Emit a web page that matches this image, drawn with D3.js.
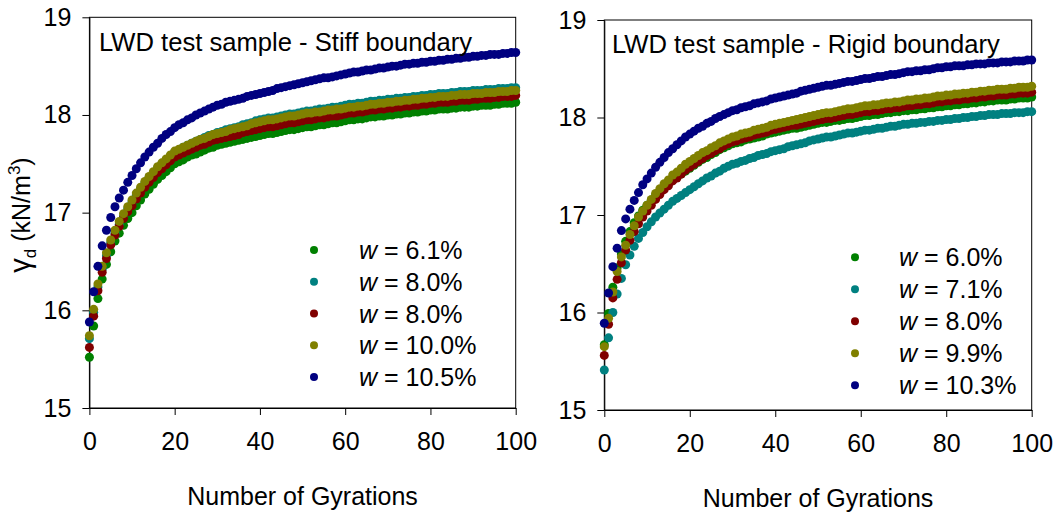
<!DOCTYPE html>
<html>
<head>
<meta charset="utf-8">
<script src="https://cdn.jsdelivr.net/npm/d3@7"></script>
<style>
  body { margin: 0; background: #fff; }
  svg { display: block; }
  text { font-family: "Liberation Sans", Arial, sans-serif; fill: #000; }
</style>
</head>
<body>
<div id="okvir"></div>
<script>
// broj giracija 0..100
const gyrations = d3.range(0, 101);

// Stiff boundary (lijevi graf)
const stiff_w61 = [15.52,15.84,16.12,16.32,16.47,16.60,16.71,16.79,16.87,16.94,17.00,
  17.07,17.13,17.19,17.24,17.29,17.34,17.38,17.42,17.46,17.50,
  17.52,17.54,17.57,17.59,17.60,17.62,17.64,17.66,17.67,17.69,
  17.70,17.71,17.72,17.73,17.74,17.75,17.76,17.77,17.78,17.79,
  17.80,17.81,17.81,17.82,17.83,17.84,17.85,17.85,17.86,17.87,
  17.88,17.88,17.89,17.90,17.90,17.91,17.92,17.92,17.93,17.94,
  17.95,17.95,17.96,17.96,17.97,17.98,17.98,17.99,17.99,18.00,
  18.00,18.01,18.01,18.02,18.02,18.03,18.03,18.04,18.04,18.05,
  18.05,18.06,18.06,18.06,18.07,18.07,18.08,18.08,18.08,18.09,
  18.09,18.10,18.10,18.10,18.11,18.11,18.12,18.12,18.12,18.13];
const stiff_w80a = [15.71,15.98,16.24,16.42,16.56,16.69,16.79,16.88,16.96,17.04,17.11,
  17.18,17.24,17.30,17.36,17.41,17.46,17.50,17.54,17.58,17.62,
  17.64,17.67,17.69,17.71,17.73,17.75,17.77,17.79,17.80,17.82,
  17.83,17.85,17.86,17.87,17.88,17.90,17.91,17.92,17.94,17.95,
  17.96,17.97,17.97,17.98,17.99,18.00,18.01,18.01,18.02,18.03,
  18.04,18.04,18.05,18.06,18.06,18.07,18.08,18.08,18.09,18.10,
  18.11,18.11,18.12,18.12,18.13,18.14,18.14,18.15,18.15,18.16,
  18.16,18.17,18.17,18.18,18.18,18.19,18.19,18.20,18.20,18.21,
  18.21,18.22,18.22,18.22,18.23,18.23,18.24,18.24,18.24,18.25,
  18.25,18.25,18.26,18.26,18.26,18.27,18.27,18.27,18.28,18.28];
const stiff_w80b = [15.62,15.94,16.20,16.39,16.53,16.67,16.77,16.86,16.94,17.01,17.07,
  17.14,17.20,17.26,17.31,17.36,17.41,17.45,17.49,17.53,17.57,
  17.59,17.61,17.63,17.65,17.67,17.69,17.70,17.72,17.74,17.75,
  17.76,17.77,17.78,17.79,17.80,17.82,17.83,17.84,17.85,17.86,
  17.87,17.88,17.88,17.89,17.90,17.91,17.92,17.92,17.93,17.94,
  17.95,17.95,17.96,17.97,17.97,17.98,17.99,17.99,18.00,18.01,
  18.02,18.02,18.03,18.03,18.04,18.05,18.05,18.06,18.06,18.07,
  18.07,18.08,18.08,18.09,18.09,18.10,18.10,18.11,18.11,18.12,
  18.12,18.13,18.13,18.13,18.14,18.14,18.15,18.15,18.15,18.16,
  18.16,18.17,18.17,18.17,18.18,18.18,18.19,18.19,18.19,18.20];
const stiff_w100 = [15.74,16.01,16.27,16.45,16.59,16.72,16.82,16.91,16.99,17.06,17.13,
  17.20,17.26,17.32,17.37,17.42,17.47,17.51,17.55,17.59,17.63,
  17.65,17.67,17.69,17.71,17.73,17.75,17.76,17.78,17.80,17.81,
  17.82,17.83,17.85,17.86,17.87,17.88,17.89,17.91,17.92,17.93,
  17.94,17.95,17.95,17.96,17.97,17.98,17.99,17.99,18.00,18.01,
  18.02,18.02,18.03,18.03,18.04,18.05,18.05,18.06,18.06,18.07,
  18.08,18.08,18.09,18.09,18.10,18.11,18.11,18.12,18.12,18.13,
  18.13,18.14,18.14,18.15,18.15,18.16,18.16,18.17,18.17,18.18,
  18.18,18.19,18.19,18.19,18.20,18.20,18.21,18.21,18.21,18.22,
  18.22,18.22,18.23,18.23,18.23,18.24,18.24,18.24,18.25,18.25];
const stiff_w105 = [15.88,16.19,16.45,16.66,16.82,16.95,17.06,17.15,17.23,17.31,17.38,
  17.45,17.51,17.57,17.62,17.67,17.71,17.76,17.80,17.83,17.87,
  17.90,17.92,17.95,17.97,18.00,18.02,18.04,18.06,18.08,18.10,
  18.11,18.13,18.14,18.15,18.16,18.17,18.19,18.20,18.21,18.22,
  18.23,18.24,18.25,18.27,18.28,18.29,18.30,18.31,18.32,18.33,
  18.34,18.35,18.36,18.37,18.38,18.38,18.39,18.40,18.41,18.42,
  18.43,18.44,18.44,18.45,18.46,18.46,18.47,18.48,18.48,18.49,
  18.50,18.50,18.51,18.52,18.52,18.53,18.53,18.54,18.54,18.55,
  18.55,18.56,18.56,18.57,18.57,18.58,18.58,18.59,18.59,18.60,
  18.60,18.61,18.61,18.62,18.62,18.62,18.63,18.63,18.64,18.64];

// Rigid boundary (desni graf)
const rigid_w60 = [15.67,15.99,16.26,16.46,16.60,16.73,16.83,16.92,16.99,17.05,17.10,
  17.15,17.20,17.24,17.28,17.32,17.36,17.39,17.42,17.45,17.48,
  17.51,17.54,17.57,17.59,17.62,17.64,17.67,17.69,17.71,17.73,
  17.74,17.75,17.77,17.78,17.79,17.80,17.81,17.83,17.84,17.85,
  17.86,17.87,17.88,17.89,17.89,17.90,17.91,17.92,17.93,17.94,
  17.95,17.95,17.96,17.97,17.97,17.98,17.99,17.99,18.00,18.01,
  18.02,18.02,18.03,18.03,18.04,18.05,18.05,18.06,18.06,18.07,
  18.07,18.08,18.08,18.09,18.09,18.10,18.10,18.11,18.11,18.12,
  18.12,18.13,18.13,18.14,18.14,18.15,18.15,18.16,18.16,18.17,
  18.17,18.18,18.18,18.18,18.19,18.19,18.20,18.20,18.20,18.21];
const rigid_w71 = [15.41,15.74,16.00,16.19,16.35,16.49,16.59,16.68,16.76,16.82,16.88,
  16.93,16.98,17.02,17.06,17.10,17.14,17.17,17.20,17.23,17.26,
  17.29,17.32,17.35,17.38,17.40,17.43,17.45,17.48,17.50,17.52,
  17.53,17.55,17.56,17.58,17.59,17.61,17.62,17.63,17.65,17.66,
  17.67,17.68,17.70,17.71,17.72,17.73,17.74,17.76,17.77,17.78,
  17.79,17.80,17.80,17.81,17.82,17.83,17.84,17.84,17.85,17.86,
  17.87,17.87,17.88,17.89,17.89,17.90,17.91,17.91,17.92,17.93,
  17.93,17.94,17.94,17.95,17.95,17.96,17.96,17.97,17.97,17.98,
  17.98,17.99,17.99,18.00,18.00,18.01,18.01,18.02,18.02,18.03,
  18.03,18.03,18.04,18.04,18.04,18.05,18.05,18.05,18.06,18.06];
const rigid_w80 = [15.56,15.88,16.15,16.34,16.51,16.64,16.74,16.83,16.91,16.98,17.04,
  17.10,17.16,17.21,17.26,17.30,17.35,17.38,17.42,17.46,17.49,
  17.52,17.55,17.58,17.61,17.63,17.66,17.68,17.71,17.73,17.75,
  17.76,17.78,17.79,17.80,17.82,17.83,17.84,17.85,17.87,17.88,
  17.89,17.90,17.91,17.92,17.92,17.93,17.94,17.95,17.96,17.97,
  17.98,17.99,17.99,18.00,18.01,18.02,18.03,18.03,18.04,18.05,
  18.06,18.06,18.07,18.07,18.08,18.09,18.09,18.10,18.10,18.11,
  18.12,18.12,18.13,18.13,18.14,18.14,18.15,18.16,18.16,18.17,
  18.17,18.18,18.18,18.19,18.19,18.20,18.20,18.21,18.21,18.22,
  18.22,18.23,18.23,18.23,18.24,18.24,18.25,18.25,18.25,18.26];
const rigid_w99 = [15.65,15.94,16.21,16.42,16.57,16.69,16.80,16.89,16.98,17.04,17.10,
  17.16,17.22,17.27,17.32,17.36,17.41,17.44,17.48,17.52,17.55,
  17.58,17.61,17.64,17.66,17.69,17.71,17.74,17.76,17.78,17.80,
  17.81,17.83,17.84,17.85,17.87,17.88,17.89,17.90,17.92,17.93,
  17.94,17.95,17.96,17.97,17.98,17.99,18.00,18.01,18.02,18.03,
  18.04,18.05,18.05,18.06,18.07,18.08,18.09,18.09,18.10,18.11,
  18.12,18.12,18.13,18.13,18.14,18.15,18.15,18.16,18.16,18.17,
  18.18,18.18,18.19,18.19,18.20,18.20,18.21,18.22,18.22,18.23,
  18.23,18.24,18.24,18.25,18.25,18.26,18.26,18.27,18.27,18.28,
  18.28,18.29,18.29,18.29,18.30,18.30,18.31,18.31,18.31,18.32];
const rigid_w103 = [15.89,16.20,16.47,16.66,16.84,16.96,17.06,17.15,17.23,17.31,17.37,
  17.43,17.49,17.54,17.59,17.64,17.68,17.72,17.76,17.80,17.83,
  17.86,17.89,17.91,17.94,17.96,17.99,18.01,18.03,18.05,18.07,
  18.08,18.10,18.11,18.12,18.14,18.15,18.16,18.17,18.19,18.20,
  18.21,18.22,18.23,18.24,18.25,18.27,18.28,18.29,18.30,18.31,
  18.32,18.33,18.33,18.34,18.35,18.36,18.37,18.37,18.38,18.39,
  18.40,18.40,18.41,18.42,18.42,18.43,18.44,18.44,18.45,18.46,
  18.47,18.47,18.48,18.48,18.49,18.49,18.50,18.51,18.51,18.52,
  18.52,18.53,18.53,18.53,18.54,18.54,18.55,18.55,18.55,18.56,
  18.56,18.56,18.57,18.57,18.57,18.58,18.58,18.58,18.59,18.59];

const stiffLabels = ["6.1%", "8.0%", "8.0%", "10.0%", "10.5%"];
const rigidLabels = ["6.0%", "7.1%", "8.0%", "9.9%", "10.3%"];
const seriesColors = ["#008000", "#008080", "#800000", "#808000", "#000080"];
const yTicks = [15, 16, 17, 18, 19];
const xTicks = [0, 20, 40, 60, 80, 100];

var svg = d3.select("#okvir")
    .append("svg")
    .attr("width", 1056)
    .attr("height", 513);

function crtajPanel(p) {
    var x = d3.scaleLinear().domain([0, 100]).range([p.left, p.right]);
    var y = d3.scaleLinear().domain([15, 19]).range([p.bottom, p.top]);
    var g = svg.append("g");

    // okvir
    g.append("rect")
        .attr("x", p.left).attr("y", p.top)
        .attr("width", p.right - p.left).attr("height", p.bottom - p.top)
        .attr("fill", "none").attr("stroke", "#000").attr("stroke-width", 1);

    // y os
    g.append("g")
        .attr("transform", "translate(" + p.left + ",0)")
        .call(d3.axisLeft(y).tickValues(yTicks).tickSize(7).tickSizeOuter(0).tickPadding(11).tickFormat(d3.format("d")))
        .call(a => a.selectAll("text").style("font-size", "25px").attr("font-family", null))
        .call(a => a.selectAll("line,path").attr("stroke", "#000"));

    // x os
    g.append("g")
        .attr("transform", "translate(0," + p.bottom + ")")
        .call(d3.axisBottom(x).tickValues(xTicks).tickSize(7).tickSizeOuter(0).tickPadding(17).tickFormat(d3.format("d")))
        .call(a => a.selectAll("text").style("font-size", "25px").attr("font-family", null))
        .call(a => a.selectAll("line,path").attr("stroke", "#000"));

    // tocke
    p.series.forEach(function (vals, i) {
        g.append("g")
            .selectAll("circle")
            .data(vals)
            .enter()
            .append("circle")
            .attr("cx", (d, j) => x(gyrations[j]))
            .attr("cy", d => y(d))
            .attr("r", 4.5)
            .attr("fill", seriesColors[i]);
    });

    // naslov unutar grafa
    g.append("text")
        .attr("x", p.titleX).attr("y", p.titleY)
        .style("font-size", "25.6px")
        .text(p.title);

    // legenda
    p.labels.forEach(function (lab, i) {
        var ly = p.legY + i * p.legStep;
        g.append("circle")
            .attr("cx", p.legX).attr("cy", ly).attr("r", 4)
            .attr("fill", seriesColors[i]);
        var t = g.append("text")
            .attr("x", p.legTextX).attr("y", ly + 9)
            .style("font-size", "25px");
        t.append("tspan").style("font-style", "italic").text("w");
        t.append("tspan").text(" = " + lab);
    });

    // naziv x osi
    g.append("text")
        .attr("x", (p.left + p.right) / 2).attr("y", p.xTitleY)
        .attr("text-anchor", "middle")
        .style("font-size", "25px")
        .text("Number of Gyrations");
}

crtajPanel({
    left: 89.4, right: 515.7, top: 17.3, bottom: 408,
    series: [stiff_w61, stiff_w80a, stiff_w80b, stiff_w100, stiff_w105],
    labels: stiffLabels,
    title: "LWD test sample - Stiff boundary", titleX: 99, titleY: 51,
    legX: 314, legY: 250, legStep: 31.75, legTextX: 359,
    xTitleY: 505
});

crtajPanel({
    left: 604.3, right: 1031.7, top: 20, bottom: 410,
    series: [rigid_w60, rigid_w71, rigid_w80, rigid_w99, rigid_w103],
    labels: rigidLabels,
    title: "LWD test sample - Rigid boundary", titleX: 612, titleY: 52.5,
    legX: 855, legY: 257.3, legStep: 32, legTextX: 899,
    xTitleY: 507
});

// oznaka y osi (lijevi graf)
var yl = svg.append("text")
    .attr("transform", "translate(30,215) rotate(-90)")
    .attr("text-anchor", "middle")
    .style("font-size", "25px");
yl.append("tspan").style("font-size", "29px").text("\u03B3");
yl.append("tspan").attr("dy", 6).style("font-size", "17px").text("d");
yl.append("tspan").attr("dy", -6).text(" (kN/m");
yl.append("tspan").attr("dy", -10).style("font-size", "17px").text("3");
yl.append("tspan").attr("dy", 10).text(")");
</script>
</body>
</html>
